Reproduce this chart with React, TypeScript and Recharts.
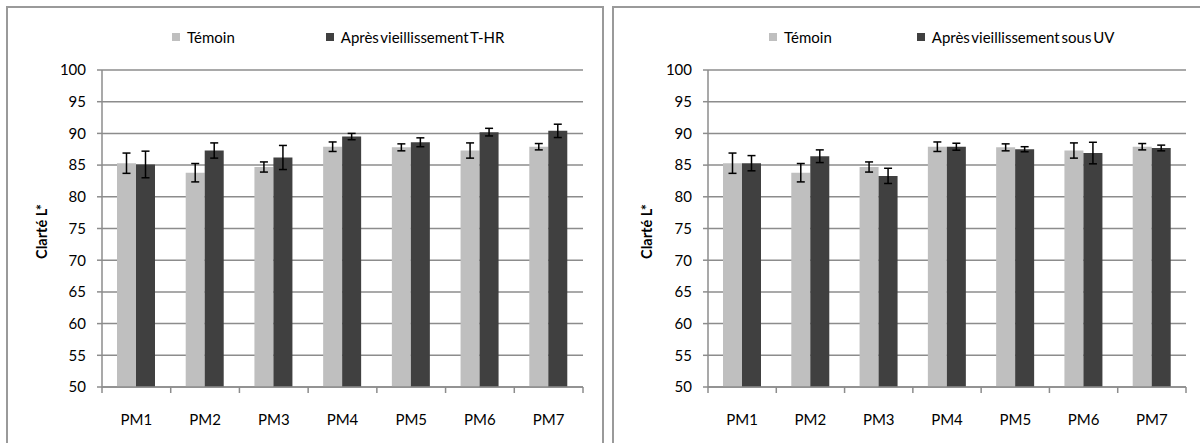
import React from 'react';
import { BarChart, Bar, XAxis, YAxis, CartesianGrid, ErrorBar, Label } from 'recharts';

// samples
const categories = ['PM1', 'PM2', 'PM3', 'PM4', 'PM5', 'PM6', 'PM7'];

// control (Témoin), same in both panels
const temoin = [85.3, 83.8, 84.7, 87.9, 87.8, 87.3, 87.9];
const temoinErr = [1.6, 1.45, 0.8, 0.75, 0.55, 1.2, 0.5];

// after T-HR ageing
const thr = [85.1, 87.3, 86.2, 89.5, 88.6, 90.2, 90.4];
const thrErr = [2.1, 1.2, 1.9, 0.5, 0.7, 0.6, 1.05];

// after UV ageing
const uv = [85.3, 86.4, 83.3, 87.9, 87.5, 86.9, 87.7];
const uvErr = [1.2, 1.0, 1.2, 0.55, 0.4, 1.7, 0.45];

const yTicks = [50, 55, 60, 65, 70, 75, 80, 85, 90, 95, 100];

const LIGHT = '#bfbfbf';
const DARK = '#404040';
const GRID = '#8c8c8c';
const FONT = 'Lato, "Noto Sans", sans-serif';

const buildData = (after: number[], afterErr: number[]) =>
  categories.map((name, i) => ({
    name,
    temoin: temoin[i],
    temoinErr: temoinErr[i],
    after: after[i],
    afterErr: afterErr[i],
  }));

const XTick = (props: any) => {
  const { x, y, payload, index } = props;
  const half = payload.offset || 34.4;
  return (
    <g>
      <line x1={x - half} x2={x - half} y1={y} y2={y + 6} stroke={GRID} strokeWidth={1.5} />
      {index === categories.length - 1 && (
        <line x1={x + half} x2={x + half} y1={y} y2={y + 6} stroke={GRID} strokeWidth={1.5} />
      )}
      <text x={x} y={y + 38} textAnchor="middle" fontSize={15} fontFamily={FONT} fill="#000">
        {payload.value}
      </text>
    </g>
  );
};

interface PanelProps {
  left: number;
  afterName: string;
  after: number[];
  afterErr: number[];
  marginLeft: number;
  marginRight: number;
  legendLeft: number;
  legendGap: number;
  labelDx: number;
}

const Panel: React.FC<PanelProps> = ({ left, afterName, after, afterErr, marginLeft, marginRight, legendLeft, legendGap, labelDx }) => {
  const data = buildData(after, afterErr);
  return (
    <div style={{ position: 'absolute', left, top: 0, width: 600, height: 443 }}>
      <BarChart
        width={600}
        height={443}
        data={data}
        margin={{ top: 70, right: marginRight, bottom: 26, left: marginLeft }}
        barGap={0}
        barSize={19}
      >
        <CartesianGrid vertical={false} stroke={GRID} strokeWidth={1.5} />
        <XAxis
          dataKey="name"
          height={30}
          tickLine={false}
          tickSize={0}
          tickMargin={0}
          axisLine={{ stroke: GRID, strokeWidth: 1.5 }}
          tick={<XTick />}
          interval={0}
        />
        <YAxis
          width={60}
          domain={[50, 100]}
          ticks={yTicks}
          interval={0}
          tickSize={5}
          tickMargin={11}
          axisLine={{ stroke: GRID, strokeWidth: 1.5 }}
          tickLine={{ stroke: GRID, strokeWidth: 1.5 }}
          tick={{ fontSize: 15, fontFamily: FONT, fill: '#000' }}
        >
          <Label
            content={({ viewBox }: any) => {
              const cx = viewBox.x + labelDx;
              const cy = viewBox.y + viewBox.height / 2 + 3;
              return (
                <text
                  x={cx}
                  y={cy}
                  transform={`rotate(-90 ${cx} ${cy})`}
                  textAnchor="middle"
                  dominantBaseline="central"
                  fontSize={14.5}
                  fontWeight="bold"
                  fontFamily={FONT}
                  fill="#000"
                >
                  Clarté L*
                </text>
              );
            }}
          />
        </YAxis>
        <YAxis
          yAxisId="border"
          orientation="right"
          width={0}
          domain={[50, 100]}
          tick={false}
          tickLine={false}
          axisLine={{ stroke: GRID, strokeWidth: 1.5 }}
        />
        <Bar dataKey="temoin" name="Témoin" fill={LIGHT} isAnimationActive={false}>
          <ErrorBar dataKey="temoinErr" width={4} stroke="#000" strokeWidth={1.5} isAnimationActive={false} />
        </Bar>
        <Bar dataKey="after" name={afterName} fill={DARK} isAnimationActive={false}>
          <ErrorBar dataKey="afterErr" width={4} stroke="#000" strokeWidth={1.5} isAnimationActive={false} />
        </Bar>
      </BarChart>
      <div
        style={{
          position: 'absolute',
          left: legendLeft,
          top: 29,
          display: 'flex',
          alignItems: 'center',
          fontFamily: FONT,
          fontSize: 15,
          lineHeight: '16px',
          wordSpacing: '-2px',
          color: '#000',
          whiteSpace: 'nowrap',
        }}
      >
        <span style={{ width: 8, height: 8, background: LIGHT, display: 'inline-block', marginRight: 7 }} />
        <span style={{ marginRight: legendGap }}>Témoin</span>
        <span style={{ width: 8, height: 8, background: DARK, display: 'inline-block', marginRight: 7 }} />
        <span>{afterName}</span>
      </div>
    </div>
  );
};

export default function App() {
  return (
    <div style={{ position: 'absolute', left: 0, top: 0, width: 1200, height: 443, overflow: 'hidden', background: '#fff' }}>
      <div style={{ position: 'absolute', left: 6, top: 6, width: 594, height: 460, border: '2px solid #9a9a9a' }} />
      <div style={{ position: 'absolute', left: 612, top: 6, width: 600, height: 460, border: '2px solid #9a9a9a' }} />
      <Panel
        left={0}
        afterName="Après vieillissement T-HR"
        after={thr}
        afterErr={thrErr}
        marginLeft={42}
        marginRight={17}
        legendLeft={172}
        legendGap={91}
        labelDx={-1}
      />
      <Panel
        left={600}
        afterName="Après vieillissement sous UV"
        after={uv}
        afterErr={uvErr}
        marginLeft={48}
        marginRight={14}
        legendLeft={169}
        legendGap={85}
        labelDx={-2}
      />
    </div>
  );
}
